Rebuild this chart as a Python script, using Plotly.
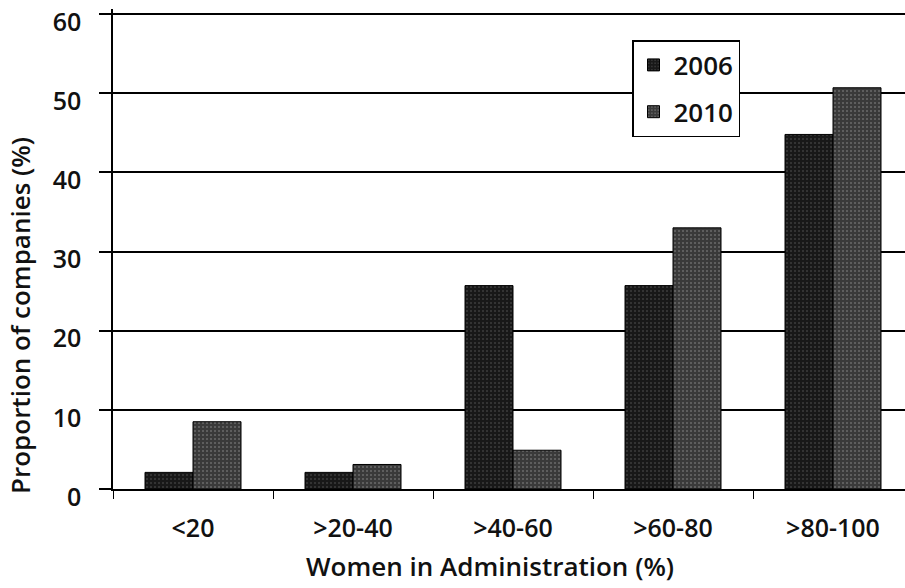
import plotly.graph_objects as go

# Share of companies by proportion of women in administration
categories = ["<20", ">20-40", ">40-60", ">60-80", ">80-100"]
years = ["2006", "2010"]
values_2006 = [2.1, 2.1, 25.7, 25.7, 44.8]
values_2010 = [8.5, 3.1, 4.9, 33.0, 50.7]
y_ticks = [0, 10, 20, 30, 40, 50, 60]

FONT = "'Open Sans', Lato, 'DejaVu Sans', sans-serif"
W, H = 905, 588
ML, MR, MT, MB = 113, 0, 9, 99
PW, PH = W - ML - MR, H - MT - MB
Y_TOP = 60.65


def px_x(x):
    return (x - ML) / PW


def px_y(y):
    return (H - MB - y) / PH


fig = go.Figure()
styles = {
    "2006": dict(bg="#181818", fg="#5e5e5e"),
    "2010": dict(bg="#3a3a3a", fg="#9a9a9a"),
}
for year, vals in zip(years, [values_2006, values_2010]):
    st = styles[year]
    fig.add_trace(go.Bar(
        x=categories, y=vals, name=year, legendgroup=year,
        marker=dict(
            color=st["bg"],
            line=dict(color="#000000", width=1),
            pattern=dict(shape=".", fgcolor=st["fg"], bgcolor=st["bg"],
                         size=4, solidity=0.2),
        ),
    ))

fig.update_layout(
    width=W, height=H,
    margin=dict(l=ML, r=MR, t=MT, b=MB),
    paper_bgcolor="white", plot_bgcolor="white",
    barmode="group", bargap=0.4, bargroupgap=0,
    font=dict(family=FONT, size=25, color="#111111", weight=600),
    showlegend=True,
    legend=dict(
        x=px_x(632), y=px_y(40), xanchor="left", yanchor="top",
        bgcolor="white", bordercolor="#000000", borderwidth=1.5,
        font=dict(size=26, weight=600), tracegroupgap=10,
        itemwidth=30,
    ),
    xaxis=dict(
        type="category", range=[-0.5, 4.45],
        showline=True, linecolor="#000000", linewidth=1.5,
        ticks="outside", tickson="boundaries", ticklen=8,
        tickcolor="#000000", tickwidth=1,
        showgrid=False, ticklabelstandoff=16,
    ),
    yaxis=dict(
        range=[0, Y_TOP], tickvals=y_ticks,
        showline=True, linecolor="#000000", linewidth=1.5,
        ticks="outside", ticklen=12, tickcolor="#000000", tickwidth=1.5,
        showgrid=True, gridcolor="#000000", gridwidth=1.5,
        zeroline=False, ticklabelstandoff=13,
        ticklabeloverflow="allow", ticklabelshift=8,
    ),
)

fig.add_annotation(
    text="Proportion of companies (%)", textangle=-90,
    xref="paper", yref="paper", x=px_x(20), y=px_y(316),
    xanchor="center", yanchor="middle", showarrow=False,
    font=dict(size=26, weight=600),
)
fig.add_annotation(
    text="Women in Administration (%)",
    xref="paper", yref="paper", x=px_x(490), y=px_y(566),
    xanchor="center", yanchor="middle", showarrow=False,
    font=dict(size=26, weight=600),
)

fig.write_html("out.html")
